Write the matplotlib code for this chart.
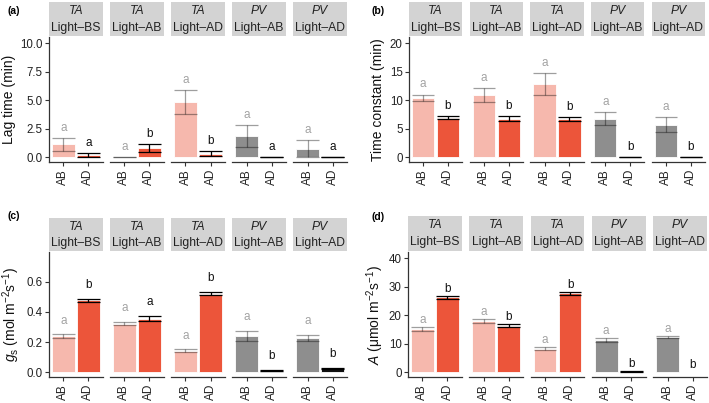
import numpy as np
import matplotlib
matplotlib.use("Agg")
import matplotlib.pyplot as plt

plt.rcParams["font.family"] = ["Liberation Sans", "DejaVu Sans"]
plt.rcParams["mathtext.fontset"] = "custom"
plt.rcParams["mathtext.rm"] = "Liberation Sans"
plt.rcParams["mathtext.it"] = "Liberation Sans:italic"

# facets: species / light treatment
species = ["TA", "TA", "TA", "PV", "PV"]
light = ["Light–BS", "Light–AB", "Light–AD", "Light–AB", "Light–AD"]
sides = ["AB", "AD"]

# (a) lag time (min)
lag_ab = [1.12, 0.0, 4.85, 1.87, 0.73]
lag_ab_se = [0.55, 0.0, 1.02, 0.93, 0.75]
lag_ad = [0.22, 0.82, 0.32, 0.0, 0.0]
lag_ad_se = [0.18, 0.32, 0.20, 0.0, 0.0]
lag_let_ab = ["a", "a", "a", "a", "a"]
lag_let_ad = ["a", "b", "b", "a", "a"]

# (b) time constant (min)
tau_ab = [10.47, 10.9, 12.9, 6.78, 5.7]
tau_ab_se = [0.53, 1.2, 1.9, 1.12, 1.32]
tau_ad = [6.95, 6.75, 6.72, 0.05, 0.05]
tau_ad_se = [0.28, 0.43, 0.30, 0.0, 0.0]
tau_let_ab = ["a", "a", "a", "a", "a"]
tau_let_ad = ["b", "b", "b", "b", "b"]

# (c) gs (mol m-2 s-1)
gs_ab = [0.240, 0.323, 0.142, 0.241, 0.229]
gs_ab_se = [0.012, 0.012, 0.010, 0.035, 0.020]
gs_ad = [0.477, 0.356, 0.522, 0.012, 0.025]
gs_ad_se = [0.010, 0.017, 0.010, 0.003, 0.006]
gs_let_ab = ["a", "a", "a", "a", "a"]
gs_let_ad = ["b", "a", "b", "b", "b"]

# (d) A (umol m-2 s-1)
A_ab = [15.25, 18.05, 8.25, 11.3, 12.4]
A_ab_se = [0.65, 0.65, 0.5, 0.8, 0.35]
A_ad = [26.3, 16.3, 27.7, 0.3, np.nan]
A_ad_se = [0.5, 0.5, 0.6, 0.05, np.nan]
A_let_ab = ["a", "a", "a", "a", "a"]
A_let_ad = ["b", "b", "b", "b", "b"]

W, H = 709, 403
fig = plt.figure(figsize=(W / 100, H / 100), dpi=100)


def px_axes(x0, y0, x1, y1):
    return fig.add_axes([x0 / W, 1 - y1 / H, (x1 - x0) / W, (y1 - y0) / H])


def fill_color(sp, side):
    if sp == "TA":
        return "#F6B8AD" if side == "AB" else "#EC553A"
    return "#8E8E8E" if side == "AB" else "#111111"


def draw_panel(tag, box, ylim, yticks, fmt, ylabel, ylabel_x, tag_xy,
               ab, ab_se, ad, ad_se, let_ab, let_ad, off):
    left, right, strip_top, top, bottom = box
    gap = 7.5
    w = (right - left - 4 * gap) / 5
    for i in range(5):
        x0 = left + i * (w + gap)
        ax = px_axes(x0, top, x0 + w, bottom)
        vals = [ab[i], ad[i]]
        ses = [ab_se[i], ad_se[i]]
        lets = [let_ab[i], let_ad[i]]
        for j, side in enumerate(sides):
            xpos = j + 1
            v = vals[j]
            if not np.isnan(v):
                ax.bar(xpos, v, width=0.9, color=fill_color(species[i], side),
                       edgecolor="white", linewidth=0.6, zorder=1)
                lo, hi = v - ses[j], v + ses[j]
                ecol = (0, 0, 0, 0.38) if side == "AB" else (0, 0, 0, 1)
                ax.vlines(xpos, lo, hi, color=ecol, linewidth=0.9, zorder=2)
                ax.hlines([lo, hi], xpos - 0.45, xpos + 0.45, color=ecol,
                          linewidth=0.9, zorder=2)
                ytxt = hi + off
            else:
                ytxt = off
            tcol = "#A3A3A3" if side == "AB" else "#111111"
            ax.text(xpos, ytxt, lets[j], ha="center", va="center",
                    fontsize=8.5, color=tcol)
        ax.set_xlim(0.43, 2.57)
        ax.set_ylim(*ylim)
        ax.set_xticks([1, 2])
        ax.set_xticklabels(sides, rotation=90, fontsize=8.5, color="#222222")
        for s in ["top", "right"]:
            ax.spines[s].set_visible(False)
        ax.spines["bottom"].set_color("#333333")
        ax.spines["bottom"].set_linewidth(0.9)
        ax.tick_params(axis="x", length=3, width=0.8, color="#333333", pad=2)
        if i == 0:
            ax.spines["left"].set_color("#333333")
            ax.spines["left"].set_linewidth(0.9)
            ax.set_yticks(yticks)
            ax.set_yticklabels([fmt % t for t in yticks], fontsize=8.3,
                               color="#222222")
            ax.tick_params(axis="y", length=3, width=0.8, color="#333333", pad=1.5)
        else:
            ax.spines["left"].set_visible(False)
            ax.set_yticks([])
        # strip
        sax = px_axes(x0, strip_top, x0 + w, top - 1)
        sax.set_xticks([])
        sax.set_yticks([])
        for s in sax.spines.values():
            s.set_visible(False)
        sax.set_facecolor("#D3D3D3")
        sax.text(0.5, 0.73, species[i], ha="center", va="center",
                 fontsize=8.7, style="italic", color="#222222", transform=sax.transAxes)
        sax.text(0.5, 0.25, light[i], ha="center", va="center",
                 fontsize=8.7, color="#222222", transform=sax.transAxes)
    fig.text(ylabel_x / W, 1 - ((top + bottom) / 2) / H, ylabel, rotation=90,
             ha="center", va="center", fontsize=10, color="#111111")
    fig.text(tag_xy[0] / W, 1 - tag_xy[1] / H, tag, ha="left", va="center",
             fontsize=7.5, fontweight="bold")


draw_panel("(a)", (49, 347, 2, 37, 162), (-0.42, 10.55), [0, 2.5, 5, 7.5, 10],
           "%.1f", "Lag time (min)", 9, (7, 11),
           lag_ab, lag_ab_se, lag_ad, lag_ad_se, lag_let_ab, lag_let_ad, 0.87)
draw_panel("(b)", (409, 705, 2, 37, 162), (-0.85, 21.1), [0, 5, 10, 15, 20],
           "%d", "Time constant (min)", 378, (372, 11),
           tau_ab, tau_ab_se, tau_ad, tau_ad_se, tau_let_ab, tau_let_ad, 1.8)
draw_panel("(c)", (49, 347, 218, 252, 377), (-0.031, 0.797), [0, 0.2, 0.4, 0.6],
           "%.1f", r"$g_\mathrm{s}$ (mol m$^{-2}$s$^{-1}$)", 11, (8, 216),
           gs_ab, gs_ab_se, gs_ad, gs_ad_se, gs_let_ab, gs_let_ad, 0.09)
draw_panel("(d)", (408, 707, 216, 252, 377), (-1.6, 42.2), [0, 10, 20, 30, 40],
           "%d", r"$A$ (μmol m$^{-2}$s$^{-1}$)", 375, (372, 217),
           A_ab, A_ab_se, A_ad, A_ad_se, A_let_ab, A_let_ad, 2.5)

fig.savefig("out.png", dpi=100)
